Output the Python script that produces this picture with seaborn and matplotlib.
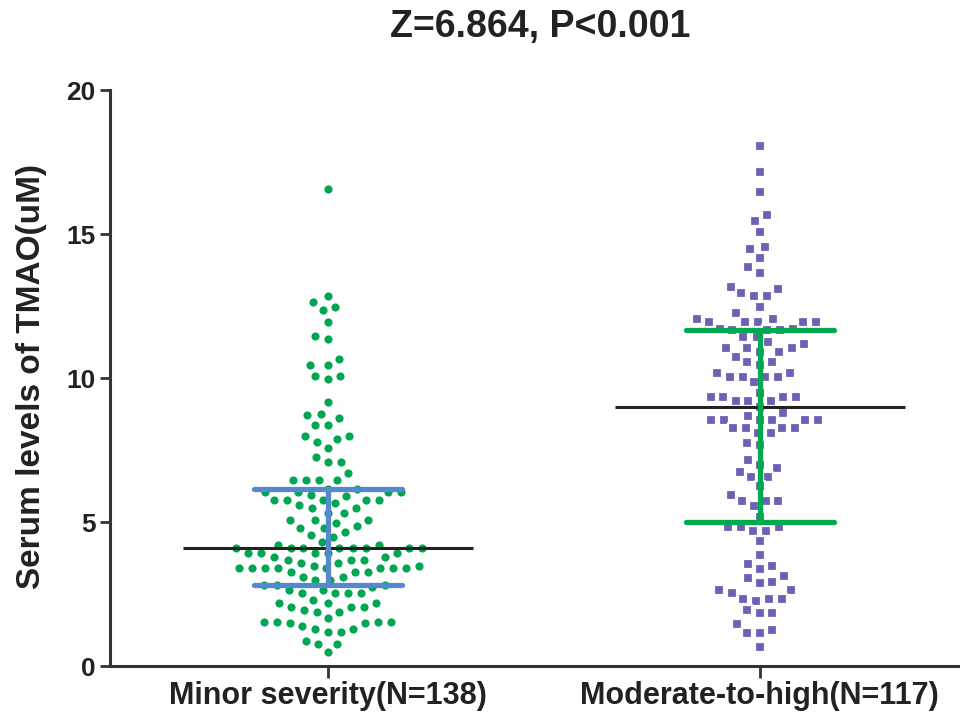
import numpy as np
import pandas as pd
import matplotlib
matplotlib.use("Agg")
import matplotlib.pyplot as plt
import seaborn as sns

categories = ["Minor severity(N=138)", "Moderate-to-high(N=117)"]

minor_values = [
    16.56, 12.86, 12.65, 12.48, 12.36, 11.96, 11.47, 11.35, 10.66,
    10.46, 10.46, 10.07, 10.07, 9.96, 9.16, 8.72, 8.60, 8.74,
    8.37, 8.37, 7.99, 7.99, 7.79, 7.88, 7.57, 7.27, 7.08, 7.08, 6.70,
    6.46, 6.46, 6.46, 6.46, 6.15, 6.15, 6.05, 6.05, 6.05, 6.05, 5.94, 5.90,
    5.76, 5.76, 5.76, 5.76, 5.76, 5.59, 5.66, 5.49, 5.49, 5.31, 5.31,
    5.07, 5.07, 5.07, 4.96, 4.86, 4.79, 4.79, 4.65, 4.55, 4.48, 4.30,
    4.20, 4.20, 4.10, 4.10, 4.10, 4.10, 4.10, 4.10, 4.10, 4.10,
    3.92, 3.92, 3.92, 3.92, 3.92, 3.80, 3.80, 3.68, 3.68, 3.68,
    3.57, 3.57, 3.48, 3.48, 3.40, 3.40, 3.40, 3.40, 3.40, 3.40, 3.40, 3.40,
    3.26, 3.26, 3.26, 3.10, 3.10, 2.99, 2.99, 2.80, 2.80, 2.80, 2.75,
    2.64, 2.64, 2.53, 2.53, 2.53, 2.53, 2.29, 2.18, 2.18, 2.18,
    2.06, 2.06, 2.06, 1.95, 1.88, 1.88, 1.66, 1.53, 1.53, 1.53, 1.53,
    1.49, 1.49, 1.39, 1.28, 1.28, 1.19, 1.19, 0.88, 0.76, 0.76, 0.47,
]

moderate_values = [
    18.07, 17.14, 16.46, 15.66, 15.46, 15.06, 14.47, 14.56, 14.18, 13.84,
    13.66, 13.08, 13.17, 12.86, 12.86, 12.94, 12.48, 12.27, 12.05, 12.05,
    11.96, 11.96, 11.96, 11.96, 11.96, 11.72, 11.72, 11.67, 11.67, 11.67,
    11.43, 11.43, 11.24, 11.17, 11.03, 11.03, 11.03, 10.92, 10.92, 10.74,
    10.57, 10.57, 10.45, 10.16, 10.16, 10.05, 10.05, 10.05, 10.05, 9.85,
    9.47, 9.35, 9.35, 9.35, 9.35, 9.20, 9.20, 9.20, 9.00, 8.68, 8.78,
    8.54, 8.54, 8.54, 8.54, 8.54, 8.54, 8.26, 8.26, 8.26, 8.26, 8.09, 8.09,
    7.75, 7.67, 7.15, 6.98, 6.87, 6.75, 6.57, 6.57, 6.25, 5.94,
    5.74, 5.74, 5.74, 5.56, 5.18, 4.84, 4.84, 4.84, 4.70, 4.70,
    4.34, 3.85, 3.56, 3.47, 3.36, 3.14, 3.04, 2.93, 2.87, 2.64, 2.64,
    2.55, 2.34, 2.34, 2.34, 2.26, 1.94, 1.85, 1.85, 1.45, 1.16, 1.16,
    1.25, 0.65,
]

y_ticks = [0, 5, 10, 15, 20]
title_text = "Z=6.864, P<0.001"
y_label = "Serum levels of TMAO(uM)"

green = "#00A651"
purple = "#6A62B4"
blue_bar = "#5588CC"
green_bar = "#00A84F"
spine_col = "#333333"
text_col = "#222222"

df = pd.DataFrame({
    "group": [categories[0]] * len(minor_values) + [categories[1]] * len(moderate_values),
    "value": minor_values + moderate_values,
})

sns.set_theme(style="white")
plt.rcParams["font.family"] = ["Liberation Sans", "DejaVu Sans"]
plt.rcParams["font.weight"] = "bold"

fig = plt.figure(figsize=(9.68, 7.15), dpi=100)
ax = fig.add_axes([0.1136, 0.0685, 0.876, 0.8055])

sns.swarmplot(data=df[df.group == categories[0]], x="group", y="value",
              order=categories, color=green, marker="o", size=7.4,
              linewidth=1.5, edgecolor="white", ax=ax)
sns.swarmplot(data=df[df.group == categories[1]], x="group", y="value",
              order=categories, color=purple, marker="s", size=7.2,
              linewidth=1.6, edgecolor="white", ax=ax)

bar_cols = [blue_bar, green_bar]
for i, vals in enumerate([minor_values, moderate_values]):
    arr = np.array(vals)
    med = np.median(arr)
    q1, q3 = np.percentile(arr, [25, 75], method="weibull")
    ax.plot([i - 0.336, i + 0.336], [med, med], color="#222222", lw=2.2,
            zorder=4, solid_capstyle="butt")
    ax.plot([i, i], [q1, q3], color=bar_cols[i], lw=3.8, zorder=5)
    ax.plot([i - 0.171, i + 0.171], [q1, q1], color=bar_cols[i], lw=3.8,
            zorder=5, solid_capstyle="round")
    ax.plot([i - 0.171, i + 0.171], [q3, q3], color=bar_cols[i], lw=3.8,
            zorder=5, solid_capstyle="round")

ax.set_xlim(-0.504, 1.459)
ax.set_ylim(0, 20)
ax.set_yticks(y_ticks)
ax.set_yticklabels([str(t) for t in y_ticks], fontsize=19, fontweight="bold",
                   color=text_col)
ax.set_xticks([0, 1])
ax.set_xticklabels(categories, fontsize=22, fontweight="bold", color=text_col)
ax.set_xlabel("")
ax.set_ylabel(y_label, fontsize=24, fontweight="bold", color=text_col)
ax.yaxis.set_label_coords(-0.0745, 0.503)

for side in ["top", "right"]:
    ax.spines[side].set_visible(False)
for side in ["left", "bottom"]:
    ax.spines[side].set_color(spine_col)
    ax.spines[side].set_linewidth(2.2)
ax.tick_params(axis="y", direction="out", length=7.5, width=2, color=spine_col,
               left=True, pad=3)
ax.tick_params(axis="x", direction="out", length=8.5, width=2, color=spine_col,
               bottom=True, pad=2)

fig.text(0.558, 0.962, title_text, ha="center", va="center", fontsize=27,
         fontweight="bold", color=text_col)

fig.savefig("out.png", dpi=100)
